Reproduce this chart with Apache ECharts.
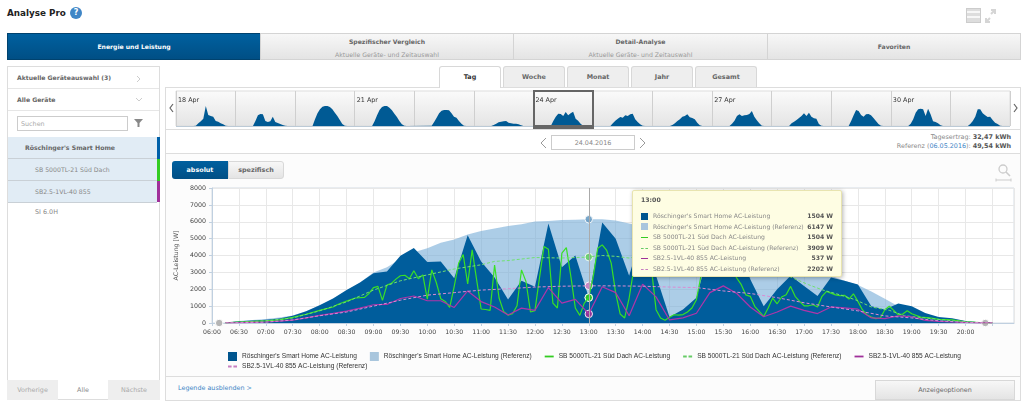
<!DOCTYPE html>
<html>
<head>
<meta charset="utf-8">
<title>Analyse Pro</title>
<script src="https://cdn.jsdelivr.net/npm/echarts@6/dist/echarts.min.js"></script>
<style>
html, body { margin: 0; padding: 0; width: 1024px; height: 403px; overflow: hidden; background: #fff; }
body { font-family: "DejaVu Sans", sans-serif; font-size: 6.4px; color: #666; position: relative; }
.b { position: absolute; box-sizing: border-box; }
.t { position: absolute; white-space: nowrap; line-height: 10px; }
.tab { background: linear-gradient(#f7f7f7, #e4e4e4); border: 1px solid #d4d4d4; text-align: center; top: 33px; height: 27px; }
.tab .h { font-weight: bold; font-size: 6.1px; color: #666; margin-top: 3px; line-height: 9px; }
.tab .s { color: #999; font-size: 6.2px; margin-top: 4px; line-height: 9px; }
.sub { top: 66px; height: 21px; border: 1px solid #d8d8d8; border-bottom: 0; border-radius: 3px 3px 0 0; background: #eee; text-align: center; line-height: 21px; font-weight: bold; color: #666; }
.row { left: 8px; width: 149px; background: #e1ecf5; border-bottom: 1px solid #c9d0d6; line-height: 21px; height: 22px; font-size: 6.2px; }
#main { position: absolute; left: 0; top: 0; width: 1024px; height: 403px; }
</style>
</head>
<body>
<div class="t" style="left:7px;top:8px;font-size:8.8px;font-weight:bold;color:#222">Analyse Pro</div>
<div class="b" style="left:70px;top:7px;width:12px;height:12px;border-radius:6px;background:#3f86c6;color:#fff;font-size:8px;font-weight:bold;text-align:center;line-height:12px">?</div>
<svg class="b" style="left:966px;top:7px" width="40" height="17">
  <rect x="0.5" y="1.5" width="14" height="14" fill="#ddd" stroke="#ccc"/><path d="M1 5h13M1 10h13" stroke="#fff" stroke-width="1.5"/>
  <path d="M20 15l4-4M20 11v4h4M29 3l-4 4M29 7V3h-4" stroke="#d5d5d5" stroke-width="2" fill="none"/>
</svg>

<div class="b tab" style="left:7px;width:254px;background:linear-gradient(#00609f,#004f85);border-color:#00426e"><div class="h" style="color:#fff;margin-top:8px">Energie und Leistung</div></div>
<div class="b tab" style="left:260px;width:254px"><div class="h">Spezifischer Vergleich</div><div class="s">Aktuelle Geräte- und Zeitauswahl</div></div>
<div class="b tab" style="left:513px;width:255px"><div class="h">Detail-Analyse</div><div class="s">Aktuelle Geräte- und Zeitauswahl</div></div>
<div class="b tab" style="left:767px;width:254px"><div class="h" style="margin-top:8px">Favoriten</div></div>

<!-- left panel -->
<div class="b" style="left:7px;top:66px;width:153px;height:334px;border:1px solid #ddd"></div>
<div class="t" style="left:17px;top:73px;font-weight:bold;font-size:6.1px">Aktuelle Geräteauswahl (3)</div>
<div class="b" style="left:8px;top:88px;width:151px;height:1px;background:#e6e6e6"></div>
<div class="t" style="left:17px;top:95px;font-weight:bold;font-size:6.1px">Alle Geräte</div>
<div class="b" style="left:8px;top:110px;width:151px;height:1px;background:#e6e6e6"></div>
<svg class="b" style="left:134px;top:74px" width="10" height="32"><path d="M3 2l3 3-3 3" stroke="#ccc" fill="none"/><path d="M2 24l3 3 3-3" stroke="#ccc" fill="none"/></svg>
<div class="b" style="left:17px;top:116px;width:111px;height:15px;border:1px solid #ccc;padding-left:3px;line-height:14px;color:#aaa">Suchen</div>
<svg class="b" style="left:133px;top:118px" width="11" height="10"><path d="M1 1h9L6.5 5v4h-2V5z" fill="#888"/></svg>
<div class="b row" style="top:137px;font-weight:bold;padding-left:17px">Röschinger's Smart Home</div>
<div class="b row" style="top:159px;padding-left:27px;color:#888">SB 5000TL-21 Süd Dach</div>
<div class="b row" style="top:181px;padding-left:27px;color:#888">SB2.5-1VL-40 855</div>
<div class="b" style="left:157px;top:137px;width:3px;height:22px;background:#0060a8"></div>
<div class="b" style="left:157px;top:159px;width:3px;height:22px;background:#33cc22"></div>
<div class="b" style="left:157px;top:181px;width:3px;height:21px;background:#a0309a"></div>
<div class="t" style="left:35px;top:207px;color:#888">SI 6.0H</div>
<div class="b" style="left:7px;top:380px;width:51px;height:20px;background:#eee;text-align:center;line-height:20px;color:#aaa">Vorherige</div>
<div class="b" style="left:58px;top:380px;width:50px;height:20px;text-align:center;line-height:20px;color:#888">Alle</div>
<div class="b" style="left:108px;top:380px;width:52px;height:20px;background:#eee;text-align:center;line-height:20px;color:#aaa">Nächste</div>

<!-- right panel -->
<div class="b" style="left:165px;top:87px;width:856px;height:314px;border:1px solid #ddd;background:#fcfcfc"></div>
<div class="b sub" style="left:439px;width:62px;background:#fff;color:#333;height:22px;z-index:1">Tag</div>
<div class="b sub" style="left:503px;width:62px">Woche</div>
<div class="b sub" style="left:567px;width:62px">Monat</div>
<div class="b sub" style="left:631px;width:62px">Jahr</div>
<div class="b sub" style="left:695px;width:62px">Gesamt</div>
<div class="b" style="left:166px;top:88px;width:854px;height:42px;background:#fff;border-bottom:1px solid #ddd"></div>
<div class="b" style="left:176px;top:126px;width:834px;height:1px;background:#9ab7cf"></div>
<div class="b" style="left:166px;top:130px;width:854px;height:24px;background:#fff;border-bottom:1px solid #ddd"></div>
<svg class="b" style="left:168px;top:102px" width="850" height="12"><path d="M5 2l-3 4 3 4" stroke="#666" stroke-width="1.2" fill="none"/><path d="M846 2l3 4-3 4" stroke="#666" stroke-width="1.2" fill="none"/></svg>
<svg class="b" style="left:538px;top:136px" width="112" height="14"><path d="M8 2L3 7l5 5" stroke="#999" fill="none"/><path d="M102 2l5 5-5 5" stroke="#999" fill="none"/></svg>
<div class="b" style="left:551px;top:135px;width:84px;height:15px;border:1px solid #ccc;background:#fff;text-align:center;line-height:14px;color:#888">24.04.2016</div>
<div class="t" style="right:13px;top:132px;color:#888">Tagesertrag: <b style="color:#555">32,47 kWh</b></div>
<div class="t" style="right:13px;top:141px;color:#888">Referenz (<span style="color:#3f86c6">06.05.2016</span>): <b style="color:#555">49,54 kWh</b></div>
<div class="b" style="left:172px;top:161px;width:56px;height:18px;background:linear-gradient(#00609f,#004f85);color:#fff;font-weight:bold;text-align:center;line-height:18px;border-radius:3px 0 0 3px">absolut</div>
<div class="b" style="left:228px;top:161px;width:56px;height:18px;background:linear-gradient(#f7f7f7,#e4e4e4);border:1px solid #d8d8d8;font-weight:bold;text-align:center;line-height:16px;border-radius:0 3px 3px 0">spezifisch</div>
<svg class="b" style="left:994px;top:163px" width="20" height="20"><circle cx="9" cy="6" r="4" stroke="#ccc" stroke-width="1.3" fill="none"/><path d="M12 9l4 4" stroke="#ccc" stroke-width="1.6"/><path d="M2 17h15M2 15.5v3M17 15.5v3" stroke="#ccc"/></svg>
<div class="b" style="left:166px;top:376px;width:854px;height:1px;background:#ddd"></div>
<div class="t" style="left:178px;top:383px;color:#3f86c6">Legende ausblenden &gt;</div>
<div class="b" style="left:875px;top:380px;width:140px;height:20px;background:linear-gradient(#f7f7f7,#e4e4e4);border:1px solid #d8d8d8;text-align:center;line-height:18px;color:#666">Anzeigeoptionen</div>

<div id="main"></div>
<div class="b" style="left:533px;top:90px;width:61px;height:39px;border:2px solid #666;border-bottom:4px solid #666"></div>

<script>
// series names, same order as the legend
const names = [
  "Röschinger's Smart Home AC-Leistung",
  "Röschinger's Smart Home AC-Leistung (Referenz)",
  'SB 5000TL-21 Süd Dach AC-Leistung',
  'SB 5000TL-21 Süd Dach AC-Leistung (Referenz)',
  'SB2.5-1VL-40 855 AC-Leistung',
  'SB2.5-1VL-40 855 AC-Leistung (Referenz)'
];
const colors = ['#00558e', '#a9c6dd', '#33cc22', '#66cc66', '#a0309a', '#c77fc0'];
const yTicks = [0, 1000, 2000, 3000, 4000, 5000, 6000, 7000, 8000];

// total, every 15 minutes from 06:15
const totalValues = [20, 100, 150, 200, 270, 430, 700, 1050, 1450, 1950, 2400, 2950, 3050, 3980, 4450, 3620, 3640, 2650, 5200, 3650, 2700, 1400, 2500, 2150, 5900, 3300, 4000, 1504, 5950, 5000, 2800, 5500, 2800, 350, 800, 1500, 4500, 4900, 5000, 2600, 1000, 2000, 2800, 2200, 1600, 2700, 2500, 2280, 1000, 800, 1150, 1000, 600, 350, 280, 120, 40, 10];
const totalRefValues = [30, 120, 180, 240, 320, 450, 700, 1050, 1450, 1900, 2400, 3000, 3300, 3800, 4200, 4430, 4750, 4950, 5250, 5450, 5600, 5750, 5850, 6020, 6050, 6100, 6120, 6147, 6150, 6070, 5900, 5700, 5500, 5300, 5100, 4900, 4700, 4500, 4250, 4000, 3700, 3500, 3350, 3150, 2950, 2800, 2500, 2250, 1870, 1440, 1000, 800, 500, 300, 200, 100, 40, 10];
const purpleValues = [5, 20, 40, 60, 110, 170, 300, 450, 570, 700, 880, 1080, 1100, 1450, 1600, 1320, 1320, 920, 1900, 1270, 950, 470, 880, 750, 2100, 1180, 1400, 537, 2150, 1800, 430, 2300, 1550, 180, 300, 580, 1800, 2200, 1750, 950, 370, 650, 1000, 750, 560, 950, 900, 820, 300, 260, 420, 370, 160, 100, 60, 30, 10, 3];

const greenTimes = ['06:15', '06:30', '07:00', '07:15', '07:30', '07:45', '08:00', '08:15', '08:20', '08:30', '08:40', '08:50', '08:55', '09:00', '09:05', '09:10', '09:15', '09:20', '09:25', '09:30', '09:35', '09:40', '09:45', '09:50', '09:55', '10:00', '10:05', '10:10', '10:15', '10:20', '10:25', '10:30', '10:35', '10:40', '10:45', '10:50', '10:55', '11:00', '11:05', '11:10', '11:15', '11:20', '11:25', '11:30', '11:35', '11:40', '11:45', '11:50', '11:55', '12:00', '12:05', '12:10', '12:15', '12:20', '12:25', '12:30', '12:35', '12:40', '12:45', '12:50', '12:55', '13:00', '13:05', '13:10', '13:15', '13:20', '13:25', '13:30', '13:35', '13:40', '13:45', '13:50', '13:55', '14:00', '14:05', '14:10', '14:15', '14:20', '14:25', '14:30', '14:35', '14:40', '14:45', '14:50', '14:55', '15:00', '15:05', '15:10', '15:15', '15:20', '15:25', '15:30', '15:35', '15:40', '15:45', '15:50', '15:55', '16:00', '16:05', '16:10', '16:15', '16:20', '16:25', '16:30', '16:35', '16:40', '16:45', '16:50', '16:55', '17:00', '17:05', '17:10', '17:15', '17:20', '17:25', '17:30', '17:35', '17:40', '17:45', '17:50', '17:55', '18:00', '18:05', '18:10', '18:15', '18:20', '18:25', '18:30', '18:35', '18:40', '18:45', '18:50', '18:55', '19:00', '19:10', '19:20', '19:30', '19:45', '20:00', '20:15', '20:30'];
const greenValues = [10, 60, 130, 190, 330, 520, 750, 950, 1100, 1300, 1480, 1520, 1750, 2100, 2170, 1340, 2250, 2350, 2600, 2800, 2830, 2620, 3100, 2620, 2850, 1420, 3150, 2400, 1440, 1280, 930, 2170, 3550, 4060, 2320, 4330, 2560, 830, 800, 750, 3430, 1480, 690, 470, 550, 1020, 3150, 2460, 650, 730, 2660, 4530, 4370, 1180, 890, 4140, 4470, 2760, 890, 450, 1180, 1504, 2760, 4430, 4630, 4300, 3550, 1770, 530, 300, 1480, 3150, 4400, 4600, 4200, 3150, 790, 300, 160, 340, 490, 470, 500, 650, 890, 1380, 2760, 4000, 4500, 4700, 4400, 4300, 4100, 3200, 2660, 2270, 1670, 1580, 990, 690, 390, 890, 1480, 1140, 1540, 1670, 2170, 1580, 1280, 1020, 1020, 1080, 950, 1580, 1870, 1770, 1670, 1620, 1640, 1420, 1730, 1280, 790, 490, 350, 260, 300, 790, 990, 750, 490, 530, 730, 550, 350, 300, 220, 180, 70, 30, 5];
const greenRefTimes = ['06:15', '07:00', '07:30', '08:00', '08:30', '09:00', '09:30', '10:00', '10:30', '11:00', '11:15', '11:30', '12:00', '12:30', '13:00', '13:15', '13:30', '13:45', '14:00', '14:30', '15:00', '15:30', '16:00', '16:30', '16:45', '17:05', '17:20', '17:40', '17:57', '18:15', '18:35', '18:52', '19:15', '19:45', '20:15', '20:30'];
const greenRefValues = [10, 130, 300, 720, 1250, 1950, 2500, 2850, 3200, 3450, 3650, 3700, 3880, 3850, 3909, 4000, 3950, 3850, 4000, 3950, 3800, 3500, 3250, 2900, 2720, 2270, 1970, 1670, 1380, 950, 750, 430, 300, 130, 30, 5];
const purpleRefTimes = ['06:15', '07:00', '07:30', '08:00', '08:30', '09:00', '09:30', '10:00', '10:30', '11:00', '11:30', '12:00', '12:30', '13:00', '13:30', '14:00', '14:30', '15:00', '15:30', '16:00', '16:30', '17:00', '17:30', '18:00', '18:30', '19:00', '19:30', '20:00', '20:30'];
const purpleRefValues = [5, 50, 180, 430, 650, 1000, 1350, 1650, 1800, 1950, 2030, 2130, 2180, 2202, 2200, 2180, 2130, 2100, 1900, 1750, 1500, 1200, 950, 720, 420, 300, 130, 40, 3];

const crosshairTime = '13:00';
const navigatorEnds = ['06:08', '20:22'];

// overview strip: relative heights per day, hours 7 to 21
const overviewLabels = ['18 Apr', '', '', '21 Apr', '', '', '24 Apr', '', '', '27 Apr', '', '', '30 Apr', ''];
const overviewDays = [
  [0, 1, 8, 14, 22, 60, 33, 30, 28, 15, 13, 8, 5, 1, 0],
  [0, 15, 32, 36, 35, 15, 12, 14, 28, 12, 9, 6, 3, 1, 0],
  [0, 20, 38, 50, 58, 60, 60, 57, 50, 40, 30, 18, 6, 1, 0],
  [0, 14, 32, 48, 57, 60, 60, 55, 47, 37, 27, 15, 5, 1, 0],
  [1, 12, 25, 38, 46, 48, 48, 47, 38, 28, 25, 15, 7, 1, 0],
  [0, 3, 7, 11, 13, 14, 15, 10, 8, 7, 7, 5, 2, 0, 0],
  [0, 15, 28, 37, 36, 30, 42, 32, 38, 43, 22, 16, 7, 1, 0],
  [0, 8, 16, 22, 27, 25, 32, 30, 35, 37, 20, 12, 5, 1, 0],
  [0, 3, 8, 15, 20, 28, 30, 35, 26, 24, 20, 10, 2, 0, 0],
  [0, 7, 16, 30, 35, 30, 32, 33, 36, 45, 28, 17, 8, 1, 0],
  [0, 8, 13, 18, 24, 30, 38, 30, 40, 28, 23, 22, 6, 1, 0],
  [0, 15, 32, 48, 45, 33, 28, 35, 36, 32, 24, 15, 6, 1, 0],
  [0, 7, 20, 40, 50, 52, 50, 30, 52, 35, 14, 12, 8, 2, 0],
  [0, 6, 15, 28, 50, 50, 38, 32, 27, 28, 18, 10, 6, 1, 0]
];

const font = '"DejaVu Sans", sans-serif';

function toMinutes(s) {
  const p = s.split(':');
  return +p[0] * 60 + +p[1];
}
function toClock(m) {
  const h = Math.floor(m / 60), r = m % 60;
  return (h < 10 ? '0' : '') + h + ':' + (r < 10 ? '0' : '') + r;
}
function zip(times, values) {
  return values.map((v, i) => [toMinutes(times[i]), v]);
}

let quarterTimes = [];
for (let m = 375; m <= 1230; m += 15) quarterTimes.push(toClock(m));

const overviewData = [];
overviewDays.forEach((day, d) => {
  day.forEach((v, i) => overviewData.push([d + (7 + i) / 24, v]));
});

// hover dot at the crosshair time
function dot(color, points, extra) {
  const at = toMinutes(crosshairTime);
  const hit = points.find(p => p[0] === at);
  return {
    silent: true,
    symbol: 'circle',
    symbolSize: 7.5,
    label: { show: false },
    itemStyle: { color: color, borderColor: '#fff', borderWidth: 1, opacity: 0.9 },
    data: [{ coord: hit }].concat(extra || [])
  };
}

function lineSeries(i, data, dashed, width) {
  return {
    name: names[i],
    type: 'line',
    data: data,
    symbol: 'none',
    silent: true,
    z: 3 + i,
    lineStyle: { color: colors[i], width: width, type: dashed ? [3, 2] : 'solid' },
    itemStyle: { color: colors[i] },
    markPoint: dot(colors[i], data)
  };
}

function legendItems(from, to) {
  const items = [];
  for (let i = from; i < to; i++) {
    let icon = 'rect';
    if (i >= 2) icon = i % 2 ? 'path://M0 0h4v2H0zM6 0h4v2H6z' : 'path://M0 0h10v2H0z';
    items.push({ name: names[i], icon: icon, itemStyle: { color: colors[i] } });
  }
  return items;
}
const legendBase = {
  left: 228, itemWidth: 9, itemHeight: 9, itemGap: 13, padding: 0,
  selectedMode: false,
  textStyle: { fontFamily: '"Liberation Sans", sans-serif', fontSize: 6.6, color: '#333' }
};

const totalData = zip(quarterTimes, totalValues);
const totalRefData = zip(quarterTimes, totalRefValues);
const endMarks = navigatorEnds.map(t => ({
  coord: [toMinutes(t), 0],
  itemStyle: { color: '#b5b5b5', borderColor: '#fff', borderWidth: 1, opacity: 1 }
}));

const chart = echarts.init(document.getElementById('main'), null, { width: 1024, height: 403 });

chart.setOption({
  animation: false,
  backgroundColor: 'transparent',
  textStyle: { fontFamily: font },
  grid: [
    { left: 212, top: 188, width: 802, height: 135, show: true, backgroundColor: '#fff', borderColor: '#d5dde5', borderWidth: 1, containLabel: false },
    {
      left: 176, top: 91, width: 834, height: 35, show: true, borderColor: '#ddd', borderWidth: 1,
      backgroundColor: { type: 'linear', x: 0, y: 0, x2: 0, y2: 1, colorStops: [{ offset: 0, color: '#fbfbfb' }, { offset: 1, color: '#e4e4e4' }] },
      tooltip: { show: false }
    }
  ],
  xAxis: [
    {
      type: 'value', gridIndex: 0, min: 360, max: 1254, interval: 30,
      axisLine: { lineStyle: { color: '#c0d0e0' } },
      axisTick: { show: true, length: 3, lineStyle: { color: '#c0d0e0' } },
      splitLine: { show: true, lineStyle: { color: '#e8e8e8' } },
      axisLabel: {
        fontSize: 6.2, color: '#444', margin: 6, showMaxLabel: false, hideOverlap: false,
        formatter: v => (v > 1200 ? '' : toClock(v))
      }
    },
    {
      type: 'value', gridIndex: 1, position: 'top', min: 0, max: 14, interval: 1,
      axisLine: { show: false }, axisTick: { show: false },
      splitLine: { show: true, lineStyle: { color: '#cfcfcf' } },
      axisLabel: {
        inside: true, align: 'left', margin: 6, padding: [0, 0, 0, 2], fontSize: 6.4, color: '#333',
        formatter: v => overviewLabels[v] || ''
      }
    }
  ],
  yAxis: [
    {
      type: 'value', gridIndex: 0, min: yTicks[0], max: yTicks[yTicks.length - 1], interval: 1000,
      name: 'AC-Leistung [W]', nameLocation: 'middle', nameGap: 32,
      nameTextStyle: { fontSize: 6.2, color: '#555' },
      axisLine: { show: true, lineStyle: { color: '#c0d0e0' } },
      axisTick: { show: true, length: 3, lineStyle: { color: '#c0d0e0' } },
      splitLine: { lineStyle: { color: '#e8e8e8' } },
      axisLabel: { fontSize: 6.3, color: '#444', margin: 6, formatter: v => String(v) }
    },
    { type: 'value', gridIndex: 1, min: 0, max: 105, show: false }
  ],
  legend: [
    Object.assign({ top: 352, data: legendItems(0, 5) }, legendBase),
    Object.assign({ top: 363, data: legendItems(5, 6) }, legendBase)
  ],
  tooltip: {
    trigger: 'axis',
    triggerOn: 'none',
    alwaysShowContent: true,
    transitionDuration: 0,
    padding: 0,
    backgroundColor: '#fefde3',
    borderColor: '#e8e4b0',
    borderWidth: 1,
    extraCssText: 'box-shadow:1px 1px 4px rgba(0,0,0,.3);border-radius:2px;width:210px;height:87px;box-sizing:border-box;',
    position: [632, 190],
    axisPointer: { type: 'line', lineStyle: { color: '#aaa', width: 1, type: 'solid' }, label: { show: false } },
    formatter: function (params) {
      const f = font.replace(/"/g, "'");
      let html = '<div style="font:bold 6.2px ' + f + ';color:#555;padding:4px 8px 0 8px;line-height:10px;height:16px">' + crosshairTime + '</div>';
      params.forEach(p => {
        const i = p.seriesIndex;
        let icon = '';
        if (i < 2) icon = 'background:' + colors[i] + ';height:7px;margin-top:1.5px';
        else icon = (i % 2 ? 'border-top:1px dashed ' : 'border-top:1px solid ') + colors[i] + ';margin-top:5px';
        html += '<div style="position:relative;height:10.5px;font:6.1px/10.5px ' + f + ';color:#888;padding-left:20px">'
          + '<span style="position:absolute;left:8px;top:0;width:7px;' + icon + '"></span>' + names[i]
          + '<b style="position:absolute;right:8px;top:0;color:#555">' + p.value[1] + ' W</b></div>';
      });
      return html;
    }
  },
  series: [
    {
      name: names[0], type: 'line', data: totalData, symbol: 'none', silent: true, z: 2,
      lineStyle: { width: 0 }, itemStyle: { color: colors[0] },
      areaStyle: { color: colors[0], opacity: 1 },
      markPoint: dot(colors[0], totalData, endMarks)
    },
    {
      name: names[1], type: 'line', data: totalRefData, symbol: 'none', silent: true, z: 1,
      lineStyle: { width: 0 }, itemStyle: { color: colors[1] },
      areaStyle: { color: '#6a9dc4', opacity: 0.6 },
      markPoint: dot('#6a9dc4', totalRefData)
    },
    lineSeries(2, zip(greenTimes, greenValues), false, 1.2),
    lineSeries(3, zip(greenRefTimes, greenRefValues), true, 1),
    lineSeries(4, zip(quarterTimes, purpleValues), false, 1.2),
    lineSeries(5, zip(purpleRefTimes, purpleRefValues), true, 1),
    {
      type: 'line', xAxisIndex: 1, yAxisIndex: 1, data: overviewData, symbol: 'none', silent: true,
      lineStyle: { width: 0 }, itemStyle: { color: '#005a94' },
      areaStyle: { color: '#005a94', opacity: 1 }
    }
  ]
});

const tip = chart.convertToPixel({ xAxisIndex: 0, yAxisIndex: 0 }, [toMinutes(crosshairTime), 4000]);
chart.dispatchAction({ type: 'showTip', x: tip[0], y: tip[1] });
</script>
</body>
</html>
